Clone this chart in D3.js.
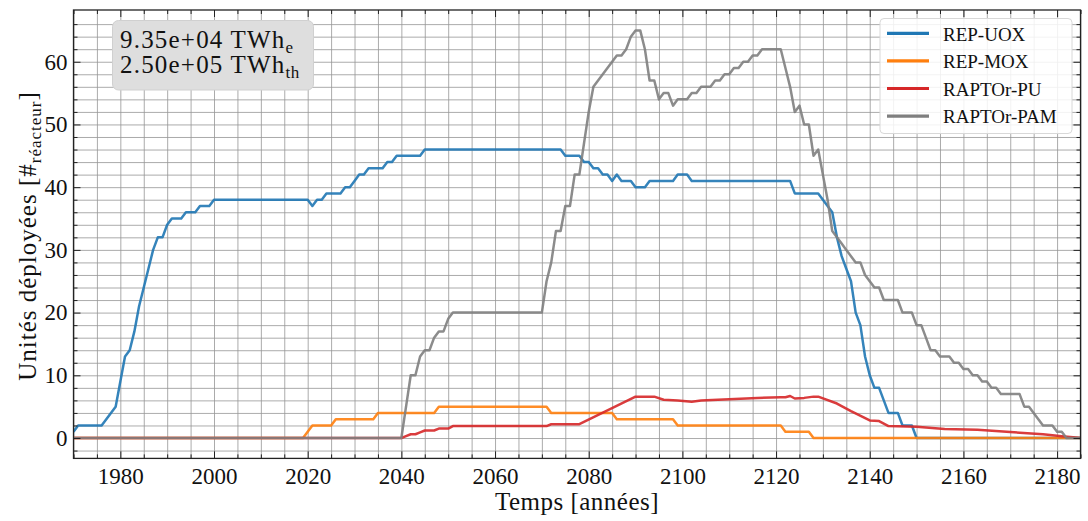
<!DOCTYPE html>
<html>
<head>
<meta charset="utf-8">
<script src="https://cdn.jsdelivr.net/npm/d3@7"></script>
<style>
  html, body { margin: 0; padding: 0; background: #fff; }
  svg { display: block; }
  svg text { font-family: "Liberation Serif", "DejaVu Serif", serif !important; fill: #111; }
</style>
</head>
<body>
<svg id="chart" width="1088" height="521" font-family="Liberation Serif, serif"></svg>
<script>
// ---------------- data ----------------
const seriesNames = ["REP-UOX", "REP-MOX", "RAPTOr-PU", "RAPTOr-PAM"];
const seriesColors = ["#1f77b4", "#ff7f0e", "#d62728", "#7f7f7f"];

const uoxYears = [1970,1971,1976,1977,1978,1979,1980,1981,1982,1983,1984,1985,1986,1987,1988,1989,1990,1991,1993,1994,1996,1997,1999,2000,2020,2021,2022,2023,2024,2027,2028,2029,2030,2031,2032,2033,2036,2037,2038,2039,2044,2045,2074,2075,2078,2079,2080,2081,2082,2083,2084,2085,2086,2087,2089,2090,2092,2093,2098,2099,2101,2102,2123,2124,2129,2130,2131,2132,2133,2134,2135,2136,2137,2138,2139,2140,2141,2142,2143,2144,2146,2147,2149,2150,2185];
const uoxValues = [1,2,2,3,4,5,9,13,14,17,21,24,27,30,32,32,34,35,35,36,36,37,37,38,38,37,38,38,39,39,40,40,41,42,42,43,43,44,44,45,45,46,46,45,45,44,44,43,43,42,42,41,42,41,41,40,40,41,41,42,42,41,41,39,39,38,37,36,32,29,27,25,20,18,13,10,8,8,6,4,4,2,2,0,0];

const moxYears = [1970,2019,2020,2021,2025,2026,2034,2035,2047,2048,2071,2072,2085,2086,2098,2099,2121,2122,2127,2128,2185];
const moxValues = [0,0,1,2,2,3,3,4,4,5,5,4,4,3,3,2,2,1,1,0,0];

const puYears = [1970,2040,2041,2042,2043,2044,2045,2047,2048,2050,2051,2071,2072,2078,2090,2094,2096,2099,2102,2104,2110,2116,2121,2122,2123,2124,2126,2128,2129,2133,2136,2140,2142,2144,2150,2156,2163,2170,2177,2181,2184,2185];
const puValues = [0,0,0.3,0.6,0.6,0.9,1.2,1.2,1.5,1.5,1.9,1.9,2.2,2.2,6.6,6.6,6.1,6.0,5.8,6.0,6.2,6.4,6.5,6.5,6.7,6.3,6.4,6.6,6.6,5.5,4.3,2.8,2.7,1.9,1.8,1.45,1.3,0.95,0.6,0.3,0.1,0];

const pamYears = [1970,2040,2041,2042,2043,2044,2045,2046,2047,2048,2049,2050,2051,2070,2071,2072,2073,2074,2075,2076,2077,2078,2079,2080,2081,2082,2083,2084,2085,2086,2087,2088,2089,2090,2091,2092,2093,2094,2095,2096,2097,2098,2099,2101,2102,2103,2104,2106,2107,2108,2109,2110,2111,2112,2113,2114,2115,2116,2117,2121,2122,2123,2124,2125,2126,2127,2128,2129,2130,2131,2132,2133,2134,2135,2136,2137,2138,2139,2140,2141,2142,2143,2146,2147,2149,2150,2151,2152,2153,2154,2155,2157,2158,2159,2160,2161,2162,2163,2164,2165,2166,2167,2168,2172,2173,2174,2175,2176,2177,2179,2180,2181,2182,2185];
const pamValues = [0,0,5,10,10,13,14,14,16,17,17,19,20,20,25,28,33,33,37,37,42,42,47,52,56,57,58,59,60,61,61,62,64,65,65,62,57,57,54,55,55,53,54,54,55,55,56,56,57,57,58,58,59,59,60,60,61,61,62,62,59,56,52,53,50,50,45,46,42,38,33,32,31,30,29,28,28,26,25,24,24,22,22,20,20,18,18,16,14,14,13,13,12,12,11,11,10,10,9,9,8,8,7,7,5,5,4,3,2,2,1,1,0,0];

const xMajorTicks = [1980,2000,2020,2040,2060,2080,2100,2120,2140,2160,2180];
const yMajorTicks = [0,10,20,30,40,50,60];
const annotationLines = [["9.35e+04 TWh", "e"], ["2.50e+05 TWh", "th"]];
const xLabel = "Temps [années]";
const yLabelMain = "Unités déployées [#";
const yLabelSub = "réacteur";

// ---------------- layout ----------------
const FONT = "'Liberation Serif', 'DejaVu Serif', serif";
const svg = d3.select("#chart");
const L = 73.5, R = 1080.5, T = 10, B = 458.4;
const x = d3.scaleLinear().domain([1970, 2185]).range([L, R]);
const y = d3.scaleLinear().domain([-3.25, 68.25]).range([B, T]);

const xMinor = d3.range(1970, 2186, 5).filter(v => !xMajorTicks.includes(v));
const yMinor = d3.range(-2, 68, 2).filter(v => !yMajorTicks.includes(v));
const xAll = d3.range(1970, 2186, 5);
const yAll = d3.range(-2, 68, 2);

svg.append("defs").append("clipPath").attr("id", "clip")
  .append("rect").attr("x", L).attr("y", T).attr("width", R - L).attr("height", B - T);

// grid
const grid = svg.append("g").attr("class", "grid");
grid.append("g").attr("transform", `translate(0,${B})`)
  .call(d3.axisBottom(x).tickValues(xAll).tickSize(-(B - T)).tickFormat(""))
  .call(g => g.select(".domain").remove());
grid.append("g").attr("transform", `translate(${L},0)`)
  .call(d3.axisLeft(y).tickValues(yAll).tickSize(-(R - L)).tickFormat(""))
  .call(g => g.select(".domain").remove());
grid.selectAll("line").attr("stroke", "#969696").attr("stroke-width", 0.8);

// lines
const seriesData = [
  d3.zip(uoxYears, uoxValues),
  d3.zip(moxYears, moxValues),
  d3.zip(puYears, puValues),
  d3.zip(pamYears, pamValues)
];
const line = d3.line().x(d => x(d[0])).y(d => y(d[1]));
const lines = svg.append("g").attr("clip-path", "url(#clip)");
seriesData.forEach((d, i) => {
  lines.append("path").datum(d)
    .attr("d", line)
    .attr("fill", "none")
    .attr("stroke", seriesColors[i])
    .attr("stroke-width", 2.5)
    .attr("stroke-opacity", 0.9)
    .attr("stroke-linejoin", "round");
});

// ticks (inward, all four sides)
function tickGroup(axis, tx, ty) {
  const g = svg.append("g").attr("transform", `translate(${tx},${ty})`).call(axis);
  g.select(".domain").remove();
  g.selectAll("line").attr("stroke", "#222").attr("stroke-width", 1);
  return g;
}
tickGroup(d3.axisBottom(x).tickValues(xMajorTicks).tickSize(-7).tickFormat(""), 0, B);
tickGroup(d3.axisBottom(x).tickValues(xMinor).tickSize(-4).tickFormat(""), 0, B);
tickGroup(d3.axisTop(x).tickValues(xMajorTicks).tickSize(-7).tickFormat(""), 0, T);
tickGroup(d3.axisTop(x).tickValues(xMinor).tickSize(-4).tickFormat(""), 0, T);
tickGroup(d3.axisLeft(y).tickValues(yMajorTicks).tickSize(-7).tickFormat(""), L, 0);
tickGroup(d3.axisLeft(y).tickValues(yMinor).tickSize(-4).tickFormat(""), L, 0);
tickGroup(d3.axisRight(y).tickValues(yMajorTicks).tickSize(-7).tickFormat(""), R, 0);
tickGroup(d3.axisRight(y).tickValues(yMinor).tickSize(-4).tickFormat(""), R, 0);

// tick labels
const xl = svg.append("g").attr("transform", `translate(0,${B})`)
  .call(d3.axisBottom(x).tickValues(xMajorTicks).tickSize(0).tickPadding(9).tickFormat(d3.format("d")));
xl.attr("font-family", FONT);
xl.select(".domain").remove();
xl.selectAll("text").style("font-family", FONT).attr("font-size", 23).attr("fill", "#111");

const yl = svg.append("g").attr("transform", `translate(${L},0)`)
  .call(d3.axisLeft(y).tickValues(yMajorTicks).tickSize(0).tickPadding(6).tickFormat(d3.format("d")));
yl.attr("font-family", FONT);
yl.select(".domain").remove();
yl.selectAll("text").style("font-family", FONT).attr("font-size", 23).attr("fill", "#111");

// frame
svg.append("rect").attr("x", L).attr("y", T).attr("width", R - L).attr("height", B - T)
  .attr("fill", "none").attr("stroke", "#222").attr("stroke-width", 1.3);

// axis labels
svg.append("text").attr("x", (L + R) / 2).attr("y", 510).attr("text-anchor", "middle")
  .style("font-family", FONT).attr("font-size", 25).attr("letter-spacing", 0.5).text(xLabel);
const ylab = svg.append("text").attr("transform", `translate(36,236) rotate(-90)`)
  .style("font-family", FONT).attr("text-anchor", "middle").attr("font-size", 25).attr("letter-spacing", 1);
ylab.append("tspan").text(yLabelMain);
ylab.append("tspan").attr("font-size", 17).attr("dy", 5).text(yLabelSub);
ylab.append("tspan").attr("dy", -5).text("]");

// annotation box
const ann = svg.append("g");
ann.append("rect").attr("x", 112.5).attr("y", 20.5).attr("width", 201).attr("height", 69.5)
  .attr("rx", 6).attr("fill", "#dedede").attr("stroke", "#d0d0d0").attr("stroke-width", 1);
const annText = ann.append("text").attr("x", 120).attr("y", 47.5).attr("font-size", 25)
  .style("font-family", FONT).attr("letter-spacing", 1.2);
annotationLines.forEach((ln, i) => {
  annText.append("tspan").attr("x", 120).attr("y", 47.5 + i * 25.5).text(ln[0]);
  annText.append("tspan").attr("font-size", 17).attr("dy", 5).attr("letter-spacing", 0.5).text(ln[1]);
});

// legend
const leg = svg.append("g");
leg.append("rect").attr("x", 880).attr("y", 18.5).attr("width", 192).attr("height", 115)
  .attr("rx", 4).attr("fill", "#fff").attr("fill-opacity", 0.85)
  .attr("stroke", "#d8d8d8").attr("stroke-width", 1);
seriesNames.forEach((name, i) => {
  const cy = 33.3 + i * 27.6;
  leg.append("line").attr("x1", 887).attr("x2", 929).attr("y1", cy).attr("y2", cy)
    .attr("stroke", seriesColors[i]).attr("stroke-width", 3.2);
  leg.append("text").attr("x", 943).attr("y", cy + 7.3).style("font-family", FONT)
    .attr("font-size", 19).text(name);
});
</script>
</body>
</html>
